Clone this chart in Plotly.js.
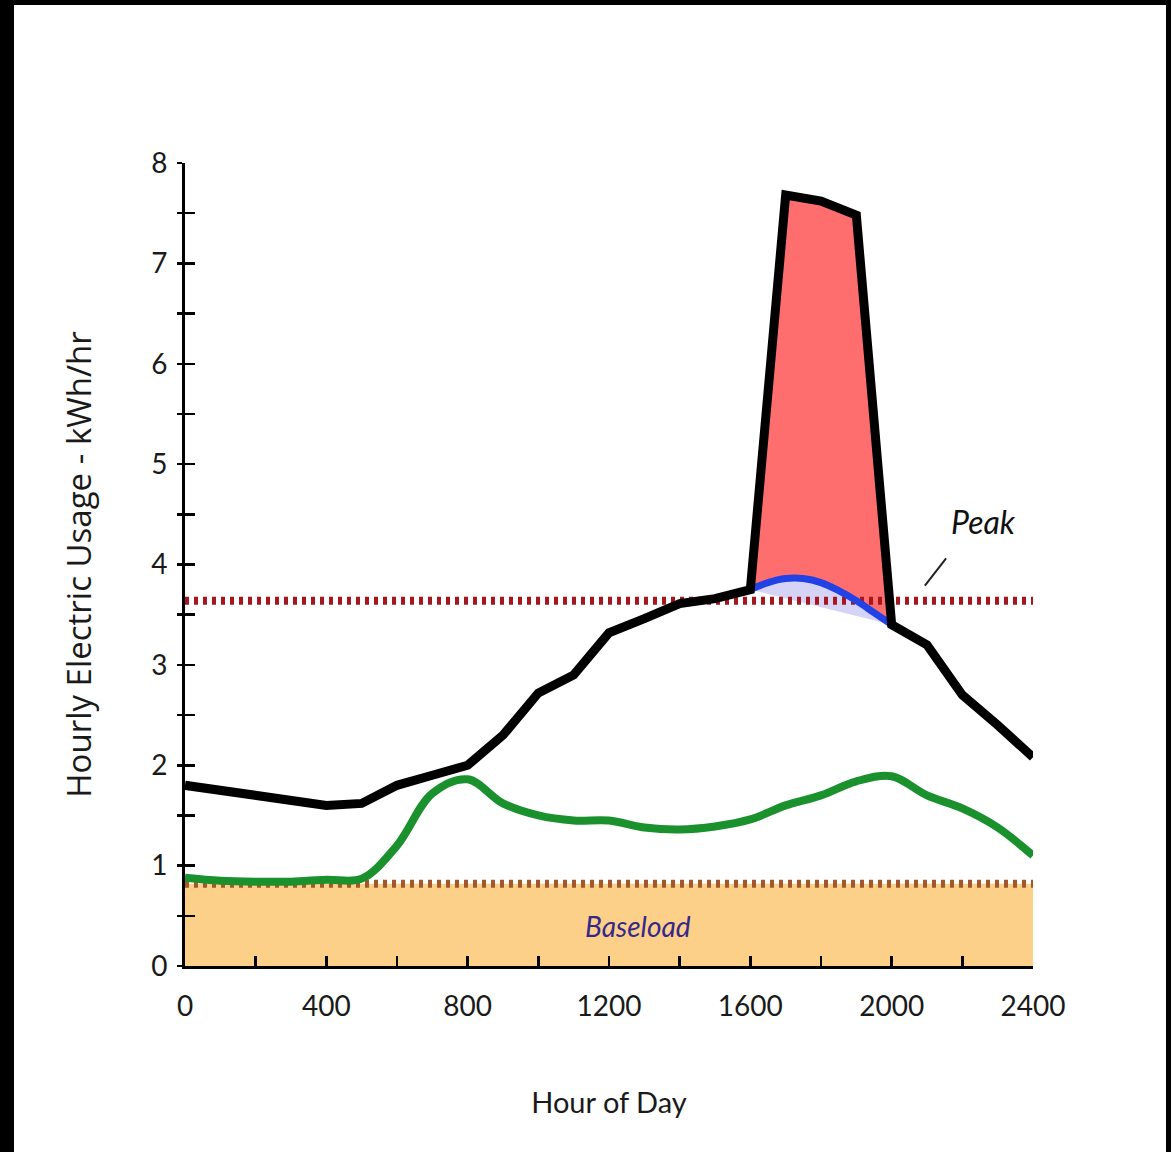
<!DOCTYPE html>
<html>
<head>
<meta charset="utf-8">
<script src="https://cdn.plot.ly/plotly-3.0.1.min.js"></script>
<style>
  html, body { margin: 0; padding: 0; background: #000; width: 1171px; height: 1152px; overflow: hidden; }
  #chart { position: absolute; left: 14px; top: 5px; width: 1152px; height: 1147px; background: #fff; }
</style>
</head>
<body>
<div id="chart"></div>
<script>
// ---- data ----
const hours = [0,100,200,300,400,500,600,700,800,900,1000,1100,1200,1300,1400,1500,1600,1700,1800,1900,2000,2100,2200,2300,2400];
const totalUsage = [1.8,1.75,1.7,1.65,1.6,1.62,1.8,1.9,2.0,2.3,2.72,2.9,3.32,3.46,3.61,3.66,3.75,7.68,7.62,7.48,3.4,3.2,2.7,2.4,2.08];
const greenUsage = [0.88,0.85,0.84,0.84,0.86,0.87,1.2,1.72,1.86,1.62,1.5,1.45,1.45,1.38,1.36,1.39,1.46,1.6,1.7,1.84,1.89,1.7,1.57,1.38,1.1];
const shiftedHours = [1600,1650,1700,1750,1800,1850,1900,1950,2000];
const shiftedUsage = [3.75,3.82,3.86,3.86,3.82,3.74,3.64,3.52,3.4];
const peakLevel = 3.64;
const baseloadLevel = 0.82;
const xTickVals = [0,400,800,1200,1600,2000,2400];
const yTickVals = [0,1,2,3,4,5,6,7,8];

const xEnds = [hours[0], hours[hours.length-1]];
const spikeStart = hours.indexOf(shiftedHours[0]);
const spikeEnd = hours.indexOf(shiftedHours[shiftedHours.length-1]);
const spikeHours = hours.slice(spikeStart, spikeEnd + 1);
const spikeUsage = totalUsage.slice(spikeStart, spikeEnd + 1);
const chordHours = [shiftedHours[0], shiftedHours[shiftedHours.length-1]];
const chordUsage = [shiftedUsage[0], shiftedUsage[shiftedUsage.length-1]];

const traces = [
  { x: xEnds, y: [baseloadLevel, baseloadLevel], mode: 'lines', fill: 'tozeroy',
    fillcolor: '#fdd08a', line: { width: 0 }, hoverinfo: 'skip', showlegend: false },
  { x: chordHours, y: chordUsage, mode: 'lines', line: { width: 0 }, hoverinfo: 'skip', showlegend: false },
  { x: shiftedHours, y: shiftedUsage, mode: 'lines', fill: 'tonexty', fillcolor: '#d6d4f6',
    line: { width: 0, shape: 'spline' }, hoverinfo: 'skip', showlegend: false },
  { x: spikeHours, y: spikeUsage, mode: 'lines', fill: 'tonexty', fillcolor: '#ff6e6e',
    line: { width: 0 }, hoverinfo: 'skip', showlegend: false },
  { x: xEnds, y: [baseloadLevel, baseloadLevel], mode: 'lines',
    line: { color: '#a4582a', width: 8, dash: '4px,5px' }, name: 'Baseload', showlegend: false },
  { x: xEnds, y: [peakLevel, peakLevel], mode: 'lines',
    line: { color: '#a5161f', width: 8, dash: '4px,5px' }, name: 'Peak', showlegend: false },
  { x: hours, y: greenUsage, mode: 'lines', line: { color: '#1a912c', width: 8, shape: 'spline', smoothing: 1 },
    name: 'Usage', showlegend: false },
  { x: shiftedHours, y: shiftedUsage, mode: 'lines', line: { color: '#2342e6', width: 7, shape: 'spline' },
    name: 'Shifted', showlegend: false },
  { x: hours, y: totalUsage, mode: 'lines', line: { color: '#000000', width: 9 },
    name: 'Total', showlegend: false }
];

const tickFont = { family: 'Lato, "DejaVu Sans", sans-serif', size: 28, color: '#1a1a1a' };

const layout = {
  width: 1152, height: 1147,
  margin: { l: 171, r: 133, t: 158, b: 186 },
  paper_bgcolor: '#ffffff', plot_bgcolor: '#ffffff',
  showlegend: false,
  xaxis: {
    range: [0, 2400], showgrid: false, zeroline: false,
    showline: true, linecolor: '#000', linewidth: 3,
    tickmode: 'array', tickvals: xTickVals, ticktext: xTickVals.map(String),
    ticks: 'inside', ticklen: 10, tickwidth: 2.5, tickcolor: '#000',
    minor: { dtick: 200, ticks: 'inside', ticklen: 10, tickwidth: 2.5, tickcolor: '#000' },
    ticklabelstandoff: 13,
    tickfont: tickFont,
    title: { text: 'Hour of Day', font: { family: 'Lato, sans-serif', size: 29, color: '#1a1a1a' }, standoff: 73 }
  },
  yaxis: {
    range: [0, 8], showgrid: false, zeroline: false,
    showline: true, linecolor: '#000', linewidth: 3,
    tickmode: 'array', tickvals: yTickVals, ticktext: yTickVals.map(String),
    ticks: 'outside', ticklen: 5, tickwidth: 2.5, tickcolor: '#000',
    minor: { dtick: 0.5, ticks: 'outside', ticklen: 5, tickwidth: 2.5, tickcolor: '#000' },
    ticklabelstandoff: 4,
    tickfont: tickFont,
    title: { text: 'Hourly Electric Usage - kWh/hr', font: { family: '"Open Sans", sans-serif', size: 33, color: '#1a1a1a' }, standoff: 50 }
  },
  yaxis2: {
    range: [0, 8], overlaying: 'y', side: 'left', anchor: 'x',
    showgrid: false, zeroline: false, showline: false, showticklabels: false,
    tickmode: 'linear', tick0: 0, dtick: 0.5,
    ticks: 'inside', ticklen: 10, tickwidth: 2.5, tickcolor: '#000'
  },
  annotations: [
    { x: 2261, y: 4.43, xref: 'x', yref: 'y', text: '<i>Peak</i>', showarrow: false,
      font: { family: 'Lato, sans-serif', size: 32, color: '#111' } },
    { x: 1282, y: 0.40, xref: 'x', yref: 'y', text: '<i>Baseload</i>', showarrow: false,
      font: { family: 'Lato, sans-serif', size: 28, color: '#36288a' } }
  ],
  shapes: [
    { type: 'line', xref: 'x', yref: 'y', x0: 2094, y0: 3.79, x1: 2154, y1: 4.06,
      line: { color: '#222', width: 2 } }
  ]
};

// dummy trace to activate yaxis2 ticks
traces.push({ x: [0], y: [0], yaxis: 'y2', mode: 'markers', marker: { opacity: 0 }, hoverinfo: 'skip', showlegend: false });

Plotly.newPlot('chart', traces, layout, { displayModeBar: false, staticPlot: true });
</script>
</body>
</html>
